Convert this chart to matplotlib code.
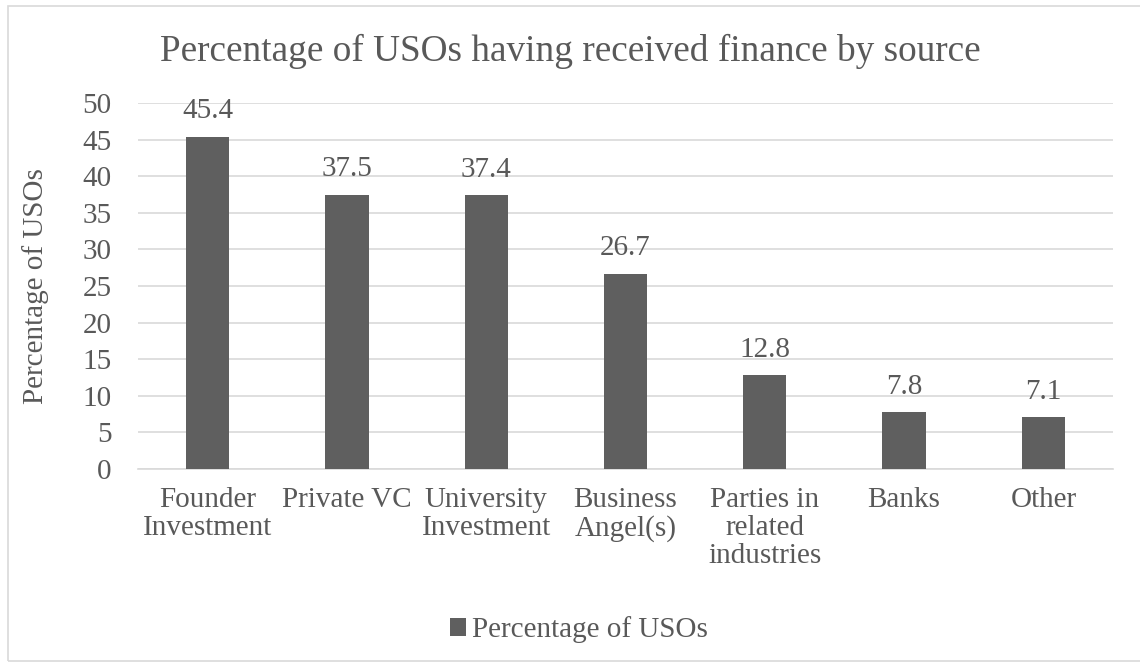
import matplotlib
matplotlib.use("Agg")
from matplotlib import pyplot as plt
from matplotlib.patches import Rectangle

categories = ['Founder\nInvestment', 'Private VC', 'University\nInvestment', 'Business\nAngel(s)',
              'Parties in\nrelated\nindustries', 'Banks', 'Other']
values = [45.4, 37.5, 37.4, 26.7, 12.8, 7.8, 7.1]
y_ticks = [0, 5, 10, 15, 20, 25, 30, 35, 40, 45, 50]

text_color = '#595959'
bar_color = '#5f5f5f'
grid_color = '#d9d9d9'

plt.rcParams['font.family'] = ['Liberation Serif', 'DejaVu Serif']

fig = plt.figure(figsize=(11.4, 6.64), dpi=100)
fig.patches.append(Rectangle((8 / 1140, 0.004), 1.0, 1 - 6 / 664 - 0.004, transform=fig.transFigure,
                             fill=False, edgecolor='#d9d9d9', linewidth=1.2))

ax = fig.add_axes([138 / 1140, 1 - 469 / 664, (1113 - 138) / 1140, (469 - 103) / 664])

x = range(len(categories))
bars = ax.bar(x, values, width=0.31, color=bar_color, zorder=3, label='Percentage of USOs')

for b, v in zip(bars, values):
    ax.text(b.get_x() + b.get_width() / 2, v + 2.5, f'{v}', ha='center', va='baseline',
            fontsize=21, color=text_color)

ax.set_xlim(-0.5, len(categories) - 0.5)
ax.set_ylim(0, 50)
ax.set_yticks(y_ticks)
ax.yaxis.grid(True, color=grid_color, linewidth=1.2, zorder=0)
ax.set_xticks(list(x))
ax.set_xticklabels(categories, fontsize=21, color=text_color, linespacing=1.1)
ax.tick_params(axis='y', labelsize=21, labelcolor=text_color, length=0, pad=19)
ax.tick_params(axis='x', length=0, pad=13)
for s in ['top', 'right', 'left']:
    ax.spines[s].set_visible(False)
ax.spines['bottom'].set_color(grid_color)
ax.spines['bottom'].set_linewidth(1.2)

ax.set_ylabel('Percentage of USOs', fontsize=21, color=text_color, labelpad=24)
fig.text(0.5, 1 - 51 / 664, 'Percentage of USOs having received finance by source',
         ha='center', va='center', fontsize=26.8, color=text_color)

fig.legend(handles=[bars], labels=['Percentage of USOs'], loc='center',
           bbox_to_anchor=(0.508, 1 - 630 / 664), frameon=False, fontsize=21,
           labelcolor=text_color, handlelength=0.55, handleheight=0.55, handletextpad=0.2)

fig.savefig('out.png', dpi=100)
